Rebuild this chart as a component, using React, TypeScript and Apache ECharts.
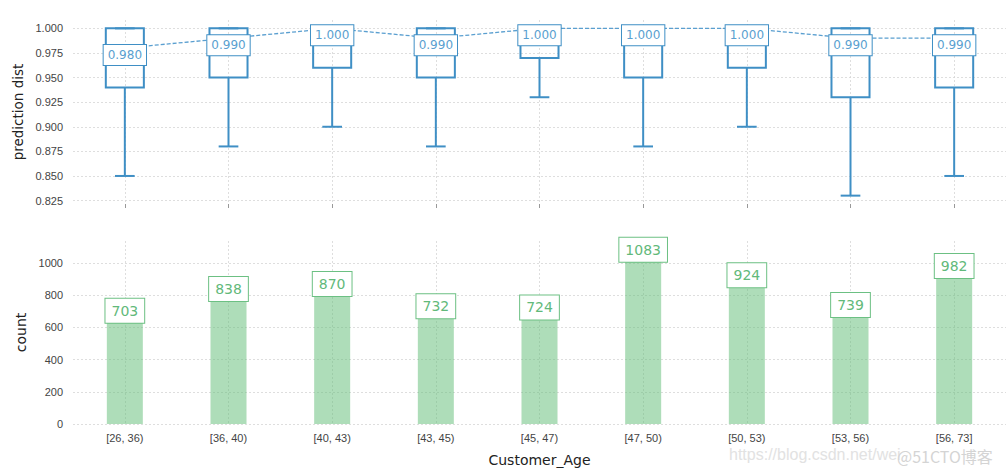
import React, { useEffect, useRef } from "react";
import * as echarts from "echarts";

const categories = ["[26, 36)", "[36, 40)", "[40, 43)", "[43, 45)", "[45, 47)", "[47, 50)", "[50, 53)", "[53, 56)", "[56, 73]"];
const whiskerLow = [0.85, 0.88, 0.9, 0.88, 0.93, 0.88, 0.9, 0.83, 0.85];
const q1 = [0.94, 0.95, 0.96, 0.95, 0.97, 0.95, 0.96, 0.93, 0.94];
const q3 = [1.0, 1.0, 1.0, 1.0, 1.0, 1.0, 1.0, 1.0, 1.0];
const whiskerHigh = [1.0, 1.0, 1.0, 1.0, 1.0, 1.0, 1.0, 1.0, 1.0];
const centerValues = [0.98, 0.99, 1.0, 0.99, 1.0, 1.0, 1.0, 0.99, 0.99];
const counts = [703, 838, 870, 732, 724, 1083, 924, 739, 982];

const BLUE = "#3f8fc5";
const BLUE_TEXT = "#5a9fd0";
const GREEN_LINE = "#6cc083";
const GREEN_TEXT = "#62b97a";
const GRID_COLOR = "#d6d6d6";
const TICK_FONT = "Liberation Sans";
const MAIN_FONT = "DejaVu Sans";

export default function App() {
  const ref = useRef<HTMLDivElement>(null);
  useEffect(() => {
    if (!ref.current) return;
    const chart = echarts.init(ref.current, null, { renderer: "svg" });
    const boxData = categories.map((_, i) => [i, whiskerLow[i], q1[i], q3[i], whiskerHigh[i]]);

    const valueGridAxis = (gridIndex: number) => ({
      type: "value",
      gridIndex,
      position: "top",
      min: -0.5,
      max: 8.5,
      minInterval: 1,
      maxInterval: 1,
      axisLine: { show: false },
      axisTick: { show: false },
      axisLabel: { show: false },
      splitLine: {
        show: true,
        showMinLine: false,
        showMaxLine: false,
        lineStyle: { color: GRID_COLOR, type: [2, 2], width: 0.8 },
      },
    });

    chart.setOption({
      animation: false,
      backgroundColor: "#ffffff",
      grid: [
        { left: 73, right: 2, top: 20, height: 184 },
        { left: 73, right: 2, top: 241, height: 183 },
      ],
      xAxis: [
        {
          type: "category",
          gridIndex: 0,
          data: categories,
          axisLine: { show: false },
          axisTick: { show: true, alignWithLabel: true, length: 4, lineStyle: { color: "#999" } },
          axisLabel: { show: false },
          splitLine: { show: false },
        },
        {
          type: "category",
          gridIndex: 1,
          data: categories,
          axisLine: { show: false },
          axisTick: { show: false },
          axisLabel: { color: "#444", fontSize: 11, fontFamily: TICK_FONT, margin: 8 },
          splitLine: { show: false },
          name: "Customer_Age",
          nameLocation: "middle",
          nameGap: 29,
          nameTextStyle: { color: "#222", fontSize: 14, fontFamily: MAIN_FONT },
        },
        valueGridAxis(0),
        valueGridAxis(1),
      ],
      yAxis: [
        {
          type: "value",
          gridIndex: 0,
          min: 0.8215,
          max: 1.0085,
          minInterval: 0.025,
          maxInterval: 0.025,
          axisLine: { show: false },
          axisTick: { show: false },
          axisLabel: {
            color: "#444",
            fontSize: 11,
            fontFamily: TICK_FONT,
            margin: 10,
            showMinLabel: false,
            showMaxLabel: false,
            formatter: (v: number) => v.toFixed(3),
          },
          splitLine: {
            show: true,
            showMinLine: false,
            showMaxLine: false,
            lineStyle: { color: GRID_COLOR, type: [2, 2], width: 0.8 },
          },
          name: "prediction dist",
          nameLocation: "middle",
          nameGap: 41,
          nameTextStyle: { color: "#222", fontSize: 13.5, fontFamily: MAIN_FONT },
        },
        {
          type: "value",
          gridIndex: 1,
          min: 0,
          max: 1137,
          interval: 200,
          axisLine: { show: false },
          axisTick: { show: false },
          axisLabel: {
            color: "#444",
            fontSize: 11,
            fontFamily: TICK_FONT,
            margin: 10,
            showMaxLabel: false,
            formatter: (v: number) => String(Math.round(v)),
          },
          splitLine: {
            show: true,
            showMaxLine: false,
            lineStyle: { color: GRID_COLOR, type: [2, 2], width: 0.8 },
          },
          name: "count",
          nameLocation: "middle",
          nameGap: 38,
          nameTextStyle: { color: "#222", fontSize: 14, fontFamily: MAIN_FONT },
        },
      ],
      series: [
        {
          type: "custom",
          xAxisIndex: 0,
          yAxisIndex: 0,
          data: boxData,
          z: 2,
          renderItem: (params: any, api: any) => {
            const x = api.value(0);
            const pLow = api.coord([x, api.value(1)]);
            const pQ1 = api.coord([x, api.value(2)]);
            const pQ3 = api.coord([x, api.value(3)]);
            const pHigh = api.coord([x, api.value(4)]);
            const band = api.size([1, 0])[0];
            const boxW = band * 0.367;
            const capW = band * 0.19;
            const cx = pLow[0];
            const style = { stroke: BLUE, lineWidth: 2, fill: "none" };
            return {
              type: "group",
              children: [
                { type: "line", shape: { x1: cx, y1: pLow[1], x2: cx, y2: pQ1[1] }, style },
                { type: "line", shape: { x1: cx - capW / 2, y1: pLow[1], x2: cx + capW / 2, y2: pLow[1] }, style },
                { type: "line", shape: { x1: cx, y1: pQ3[1], x2: cx, y2: pHigh[1] }, style },
                { type: "line", shape: { x1: cx - capW / 2, y1: pHigh[1], x2: cx + capW / 2, y2: pHigh[1] }, style },
                {
                  type: "rect",
                  shape: { x: cx - boxW / 2, y: pQ3[1], width: boxW, height: pQ1[1] - pQ3[1] },
                  style: { stroke: BLUE, lineWidth: 2, fill: "rgba(255,255,255,0)" },
                },
              ],
            };
          },
        },
        {
          type: "line",
          xAxisIndex: 0,
          yAxisIndex: 0,
          data: centerValues,
          z: 5,
          symbol: "circle",
          symbolSize: 1,
          itemStyle: { color: "rgba(0,0,0,0)" },
          lineStyle: { color: BLUE_TEXT, width: 1.3, type: [4, 2] },
          label: {
            show: true,
            position: "inside",
            offset: [0, 7],
            formatter: (p: any) => Number(p.value).toFixed(3),
            color: BLUE_TEXT,
            fontSize: 12,
            fontFamily: MAIN_FONT,
            backgroundColor: "#ffffff",
            borderColor: BLUE,
            borderWidth: 1,
            padding: [4, 4, 4, 4],
          },
        },
        {
          type: "bar",
          xAxisIndex: 1,
          yAxisIndex: 1,
          data: counts,
          barWidth: 36,
          z: 2,
          itemStyle: { color: "rgba(99,189,120,0.52)" },
          label: {
            show: true,
            position: ["50%", 0],
            align: "center",
            verticalAlign: "middle",
            color: GREEN_TEXT,
            fontSize: 14,
            fontFamily: MAIN_FONT,
            backgroundColor: "#ffffff",
            borderColor: GREEN_LINE,
            borderWidth: 1,
            padding: [5, 6, 5, 6],
          },
        },
      ],
      graphic: [
        {
          type: "text",
          left: 729,
          top: 446,
          style: { text: "https://blog.csdn.net/wei", fill: "#e2e2e2", fontSize: 16, fontFamily: TICK_FONT },
          z: 10,
        },
        {
          type: "text",
          left: 897,
          top: 448,
          style: { text: "@51CTO博客", fill: "#d4d4d4", fontSize: 16, fontFamily: "Noto Sans CJK SC" },
          z: 11,
        },
      ],
    });
    return () => chart.dispose();
  }, []);
  return <div ref={ref} style={{ width: 1008, height: 472, position: "fixed", left: 0, top: 0 }} />;
}
